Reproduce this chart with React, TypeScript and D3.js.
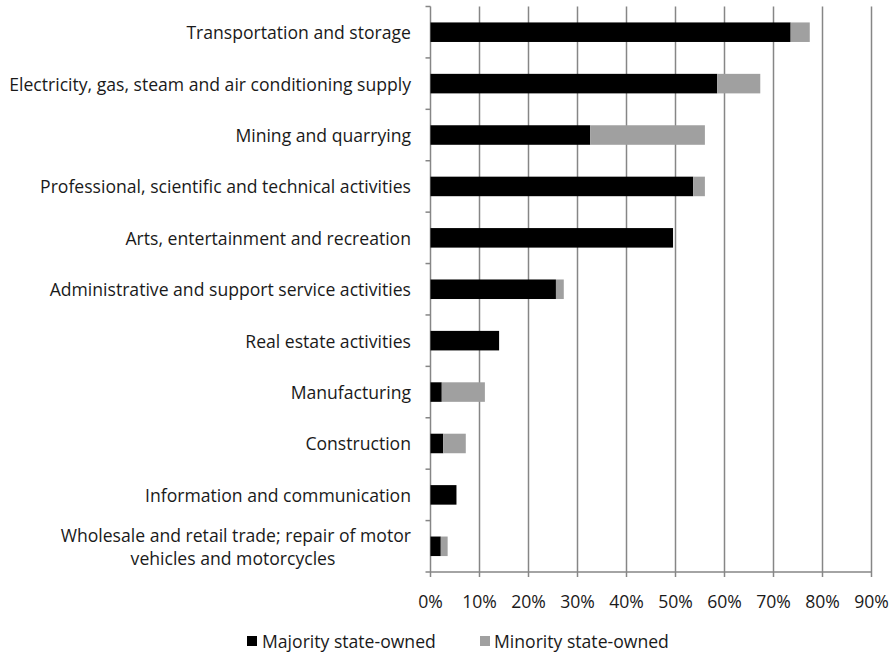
import React from "react";
import * as d3 from "d3";

const categories = [
  "Transportation and storage",
  "Electricity, gas, steam and air conditioning supply",
  "Mining and quarrying",
  "Professional, scientific and technical activities",
  "Arts, entertainment and recreation",
  "Administrative and support service activities",
  "Real estate activities",
  "Manufacturing",
  "Construction",
  "Information and communication",
  "Wholesale and retail trade; repair of motor\nvehicles and motorcycles",
];
const majority = [73.5, 58.5, 32.6, 53.6, 49.5, 25.6, 14.0, 2.3, 2.6, 5.3, 2.1];
const minority = [3.9, 8.8, 23.4, 2.4, 0, 1.6, 0, 8.8, 4.6, 0, 1.4];
const xTicks = [0, 10, 20, 30, 40, 50, 60, 70, 80, 90];
const seriesNames = ["Majority state-owned", "Minority state-owned"];
const colors = ["#000000", "#a0a0a0"];

const W = 894, H = 653;
const FONT = "'Open Sans', sans-serif";
const FS = 17.6;
const TXT = "#1a1a1a";

export default function App() {
  const x = d3.scaleLinear().domain([0, 90]).range([430.5, 871.5]);
  const y = d3.scaleBand().domain(categories).range([6.5, 572]).paddingInner(0.62).paddingOuter(0.31);
  const step = y.step();
  const axisBottom = 572;
  const gridColor = "#868686";
  const labelRight = 411;

  const stacked = categories.map((c, i) => {
    const a = majority[i], b = minority[i];
    return [
      { x0: 0, x1: a },
      { x0: a, x1: a + b },
    ];
  });

  return (
    <svg width={W} height={H} style={{ position: "absolute", left: 0, top: 0, background: "#fff" }}>
      <rect width={W} height={H} fill="#fff" />
      {xTicks.slice(1).map((t) => (
        <line key={t} x1={x(t)} x2={x(t)} y1={6.5} y2={axisBottom + 5} stroke={gridColor} strokeWidth={1.5} />
      ))}
      <line x1={x(0)} x2={x(0)} y1={6.5} y2={axisBottom + 5} stroke={gridColor} strokeWidth={1.5} />
      {d3.range(categories.length + 1).map((i) => {
        const yy = 6.5 + i * step;
        return <line key={i} x1={x(0) - 5} x2={x(0)} y1={yy} y2={yy} stroke={gridColor} strokeWidth={1.5} />;
      })}
      <line x1={x(0)} x2={x(90)} y1={axisBottom} y2={axisBottom} stroke={gridColor} strokeWidth={1.5} />
      {categories.map((c, i) =>
        stacked[i].map((s, k) =>
          s.x1 > s.x0 ? (
            <rect key={c + k} x={x(s.x0)} y={y(c)!} width={x(s.x1) - x(s.x0)} height={y.bandwidth()} fill={colors[k]} />
          ) : null
        )
      )}
      {categories.map((c) => {
        const lines = c.split("\n");
        const cy = y(c)! + y.bandwidth() / 2;
        if (lines.length === 1) {
          return (
            <text key={c} x={labelRight} y={cy} textAnchor="end" dominantBaseline="central" fontFamily={FONT} fontSize={FS} fill={TXT}>
              {c}
            </text>
          );
        }
        return (
          <g key={c}>
            <text x={labelRight} y={cy - 11} textAnchor="end" dominantBaseline="central" fontFamily={FONT} fontSize={FS} fill={TXT}>
              {lines[0]}
            </text>
            <text x={233} y={cy + 12} textAnchor="middle" dominantBaseline="central" fontFamily={FONT} fontSize={FS} fill={TXT}>
              {lines[1]}
            </text>
          </g>
        );
      })}
      {xTicks.map((t) => (
        <text key={t} x={x(t)} y={601} textAnchor="middle" dominantBaseline="central" fontFamily={FONT} fontSize={FS} fill={TXT}>
          {t + "%"}
        </text>
      ))}
      <rect x={247} y={636} width={10} height={10} fill={colors[0]} />
      <text x={262} y={641} dominantBaseline="central" fontFamily={FONT} fontSize={FS} fill={TXT}>{seriesNames[0]}</text>
      <rect x={480} y={636} width={10} height={10} fill={colors[1]} />
      <text x={494} y={641} dominantBaseline="central" fontFamily={FONT} fontSize={FS} fill={TXT}>{seriesNames[1]}</text>
    </svg>
  );
}
